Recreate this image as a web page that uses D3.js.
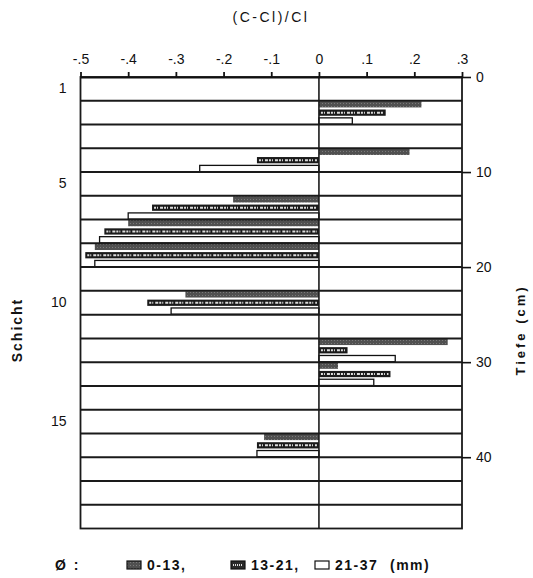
<!DOCTYPE html>
<html>
<head>
<meta charset="utf-8">
<script src="https://cdn.jsdelivr.net/npm/d3@7"></script>
<style>
  body { margin: 0; background: #fff; }
  svg text { font-family: 'Liberation Sans', Arial, sans-serif; fill: #111; }
</style>
</head>
<body>
<div id="chart"></div>
<script>
// layers (Schicht) 1..19, each 2.5 cm thick
var layers = d3.range(1, 20);
var layerLabels = [1, 5, 10, 15];
var depthTicks = [0, 10, 20, 30, 40];
var xTicks = [-0.5, -0.4, -0.3, -0.2, -0.1, 0, 0.1, 0.2, 0.3];
// (C-Cl)/Cl per grain size class, null = no value
var fine   = [null, 0.215, null, 0.19, null, -0.18, -0.40, -0.47, null, -0.28, null, 0.27, 0.04, null, null, -0.115, null, null, null];
var medium = [null, 0.14, null, -0.13, null, -0.35, -0.45, -0.49, null, -0.36, null, 0.06, 0.15, null, null, -0.13, null, null, null];
var coarse = [null, 0.07, null, -0.25, null, -0.40, -0.46, -0.47, null, -0.31, null, 0.16, 0.115, null, null, -0.13, null, null, null];
var classes = ['0-13', '13-21', '21-37'];
var legendLabels = ['0-13,', '13-21,', '21-37'];

(function() {
    var W = 533, H = 578;
    var left = 80.5, right = 462, top = 77, bottom = 528.5;

    var svg = d3.select('#chart').append('svg')
                .attr('width', W)
                .attr('height', H);

    // pattern for the 0-13 class
    var defs = svg.append('defs');
    var p1 = defs.append('pattern').attr('id', 'pat-fine')
                .attr('patternUnits', 'userSpaceOnUse')
                .attr('width', 3).attr('height', 3);
    p1.append('rect').attr('width', 3).attr('height', 3).style('fill', '#505050');
    p1.append('rect').attr('x', 1).attr('y', 1).attr('width', 1).attr('height', 1).style('fill', '#7a7a7a');

    // scales
    var xScale = d3.scaleLinear()
                    .domain([-0.5, 0.3])
                    .range([left, right]);
    var depthScale = d3.scaleLinear()
                    .domain([0, 47.5])
                    .range([top, bottom]);
    var yBand = d3.scaleBand()
                    .domain(layers)
                    .range([top, bottom]);
    var subBand = d3.scaleBand()
                    .domain(classes)
                    .range([0, yBand.bandwidth()])
                    .paddingInner(0.25)
                    .paddingOuter(0.05);

    // bars
    var series = [fine, medium, coarse];
    series.forEach(function(values, k) {
        var cls = classes[k];
        var data = layers.map(function(l, i) { return {layer: l, v: values[i]}; })
                         .filter(function(d) { return d.v !== null; });
        var g = svg.append('g');
        g.selectAll('rect')
            .data(data)
            .enter()
            .append('rect')
            .attr('x', function(d) { return xScale(Math.min(0, d.v)); })
            .attr('y', function(d) { return yBand(d.layer) + subBand(cls); })
            .attr('width', function(d) { return Math.abs(xScale(d.v) - xScale(0)); })
            .attr('height', subBand.bandwidth())
            .style('fill', k == 0 ? 'url(#pat-fine)' : (k == 1 ? '#1a1a1a' : '#fff'))
            .style('stroke', k == 2 ? '#111' : 'none')
            .style('stroke-width', 1.3);
        if (k == 1) {
            // white speckle inside the 13-21 bars
            g.selectAll('line')
                .data(data)
                .enter()
                .append('line')
                .attr('x1', function(d) { return xScale(Math.min(0, d.v)) + 2; })
                .attr('x2', function(d) { return xScale(Math.max(0, d.v)) - 2; })
                .attr('y1', function(d) { return yBand(d.layer) + subBand(cls) + subBand.bandwidth() / 2; })
                .attr('y2', function(d) { return yBand(d.layer) + subBand(cls) + subBand.bandwidth() / 2; })
                .style('stroke', '#dcdcdc')
                .style('stroke-width', 2)
                .style('stroke-dasharray', '2,1,1,2,3,1');
        }
    });

    // layer lines
    svg.append('g').selectAll('line')
        .data(layers.slice(1))
        .enter()
        .append('line')
        .attr('x1', left).attr('x2', right)
        .attr('y1', function(d) { return yBand(d); })
        .attr('y2', function(d) { return yBand(d); })
        .style('stroke', '#1a1a1a')
        .style('stroke-width', 2);

    // frame + zero line
    svg.append('rect')
        .attr('x', left).attr('y', top)
        .attr('width', right - left).attr('height', bottom - top)
        .style('fill', 'none')
        .style('stroke', '#1a1a1a')
        .style('stroke-width', 1.8);
    svg.append('line')
        .attr('x1', xScale(0)).attr('x2', xScale(0))
        .attr('y1', top).attr('y2', bottom)
        .style('stroke', '#1a1a1a')
        .style('stroke-width', 1.6);

    // top axis
    var xAxis = d3.axisTop(xScale)
                    .tickValues(xTicks)
                    .tickSize(5)
                    .tickSizeOuter(0)
                    .tickPadding(8)
                    .tickFormat(function(d) {
                        if (d === 0) return '0';
                        return d3.format('.1f')(d).replace('0.', '.').replace('−', '-');
                    });
    var gx = svg.append('g').attr('transform', 'translate(0,' + top + ')').call(xAxis);
    gx.select('.domain').style('stroke', '#111').style('stroke-width', 2.2);
    gx.selectAll('line').style('stroke', '#111').style('stroke-width', 1.8);
    gx.selectAll('text').style('font-size', '14px').style('font-family', "'Liberation Sans', Arial, sans-serif").style('fill', '#111');

    // right depth axis
    var dAxis = d3.axisRight(depthScale)
                    .tickValues(depthTicks)
                    .tickSize(9)
                    .tickSizeOuter(0)
                    .tickPadding(5);
    var gd = svg.append('g').attr('transform', 'translate(' + right + ',0)').call(dAxis);
    gd.select('.domain').remove();
    gd.selectAll('line').style('stroke', '#111').style('stroke-width', 1.6);
    gd.selectAll('text').style('font-size', '14px').style('font-family', "'Liberation Sans', Arial, sans-serif").style('fill', '#111');

    // left layer labels
    var lAxis = d3.axisLeft(yBand)
                    .tickValues(layerLabels)
                    .tickSize(0)
                    .tickPadding(14);
    var gl = svg.append('g').attr('transform', 'translate(' + left + ',0)').call(lAxis);
    gl.select('.domain').remove();
    gl.selectAll('text').style('font-size', '14px').style('font-family', "'Liberation Sans', Arial, sans-serif").style('fill', '#111');

    // titles
    svg.append('text')
        .text('(C-Cl)/Cl')
        .attr('x', 271).attr('y', 22)
        .attr('text-anchor', 'middle')
        .style('font-size', '14px')
        .style('letter-spacing', '2.5px');
    svg.append('text')
        .text('Schicht')
        .attr('transform', 'translate(22,330) rotate(-90)')
        .attr('text-anchor', 'middle')
        .style('font-size', '14px')
        .style('font-weight', 'bold')
        .style('letter-spacing', '2px');
    svg.append('text')
        .text('Tiefe (cm)')
        .attr('transform', 'translate(525,330) rotate(-90)')
        .attr('text-anchor', 'middle')
        .style('font-size', '13px')
        .style('font-weight', 'bold')
        .style('letter-spacing', '3px');

    // legend
    var ly = 565;
    svg.append('text').text('Ø :')
        .attr('x', 55).attr('y', ly + 5)
        .style('font-size', '14px')
        .style('font-weight', 'bold')
        .style('letter-spacing', '2px');
    var legX = [127, 231, 315];
    legX.forEach(function(x, k) {
        svg.append('rect')
            .attr('x', x).attr('y', ly - 4)
            .attr('width', 14).attr('height', 8)
            .style('fill', k == 0 ? 'url(#pat-fine)' : (k == 1 ? '#2a2a2a' : '#fff'))
            .style('stroke', '#111')
            .style('stroke-width', 1.2);
        if (k == 1) {
            svg.append('line')
                .attr('x1', x + 2).attr('x2', x + 12)
                .attr('y1', ly).attr('y2', ly)
                .style('stroke', '#ddd').style('stroke-width', 2)
                .style('stroke-dasharray', '1,1');
        }
        svg.append('text').text(legendLabels[k])
            .attr('x', x + 20).attr('y', ly + 5)
            .style('font-size', '14px')
            .style('font-weight', 'bold')
            .style('letter-spacing', '1.5px');
    });
    svg.append('text').text('(mm)')
        .attr('x', 390).attr('y', ly + 5)
        .style('font-size', '14px')
        .style('font-weight', 'bold')
        .style('letter-spacing', '1.5px');
}());
</script>
</body>
</html>
